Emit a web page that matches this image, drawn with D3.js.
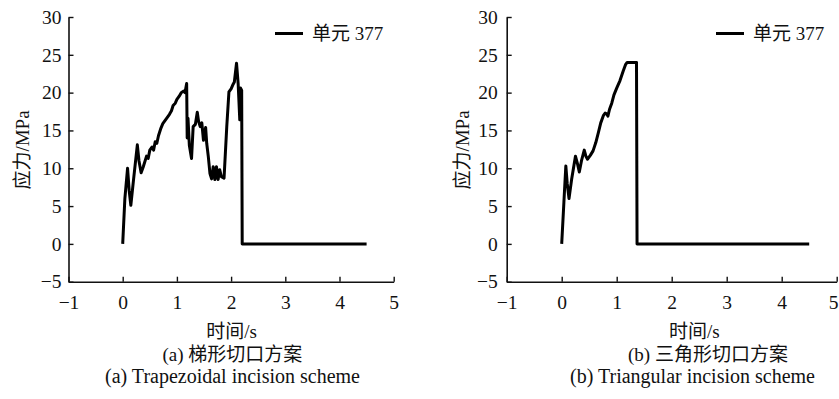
<!DOCTYPE html>
<html><head><meta charset="utf-8">
<script src="https://cdn.jsdelivr.net/npm/d3@7"></script>
<style>
html,body{margin:0;padding:0;background:#fff;}
text{font-family:"Liberation Serif","Noto Sans CJK SC",serif;fill:#111;}
</style></head>
<body><svg id="c" width="839" height="399"></svg>
<script>
// ---- data ----
const xTicks = [-1, 0, 1, 2, 3, 4, 5];
const yTicks = [-5, 0, 5, 10, 15, 20, 25, 30];
const legendLabel = "单元 377";
const yTitle = "应力/MPa";
const xTitle = "时间/s";
const captionsA = ["(a) 梯形切口方案", "(a) Trapezoidal incision scheme"];
const captionsB = ["(b) 三角形切口方案", "(b) Triangular incision scheme"];

// 梯形切口 (trapezoidal) : time (s)
const timeA = [0,0.04,0.09,0.12,0.15,0.2,0.27,0.3,0.34,0.38,0.44,0.47,0.5,0.54,0.57,0.6,0.63,0.66,0.7,0.74,0.78,0.82,0.86,0.9,0.93,0.97,1.0,1.04,1.08,1.12,1.15,1.18,1.19,1.205,1.23,1.27,1.3,1.34,1.376,1.4,1.43,1.46,1.49,1.53,1.55,1.58,1.61,1.64,1.67,1.70,1.73,1.76,1.79,1.82,1.87,1.92,1.96,2.0,2.03,2.06,2.1,2.13,2.16,2.175,2.195,2.205,4.5];
// stress (MPa)
const stressA = [0,6,10,7,5.1,8.5,13.1,11,9.4,10.2,11.6,11.3,12.4,12.8,12.4,13.5,13.3,14.3,15.2,15.9,16.3,16.7,17.1,17.6,18.3,18.6,19.1,19.5,20.0,20.2,20.0,21.2,14.0,16.6,13.0,11.3,15.5,15.8,17.4,16.2,15.5,16.0,13.7,15.4,13.3,11.5,9.3,8.6,10.2,8.5,10.2,8.5,9.8,8.9,8.7,15.5,20.1,20.5,21.0,21.4,23.9,21.2,16.4,20.6,20.3,0,0];

// 三角形切口 (triangular)
const timeB = [0,0.04,0.075,0.1,0.133,0.18,0.25,0.29,0.32,0.36,0.41,0.44,0.47,0.52,0.57,0.62,0.67,0.71,0.76,0.79,0.82,0.84,0.87,0.91,0.95,1.0,1.06,1.12,1.16,1.19,1.36,1.37,4.5];
const stressB = [0,5.5,10.3,8,6.0,8.5,11.6,10.5,9.5,11,12.4,11.6,11.2,11.7,12.3,13.4,14.8,16.0,17.0,17.3,17.2,16.9,17.8,18.6,19.7,20.6,21.6,22.9,23.7,24,24,0,0];

const svg = d3.select("#c");
const FS = 19.5;   // tick numbers
const FC = 19;     // CJK texts
const FE = 20;     // English caption

function panel(cfg) {
  const x = d3.scaleLinear().domain([-1, 5]).range([cfg.x0, cfg.x1]);
  const y = d3.scaleLinear().domain([-5, 30]).range([281.7, 17]);
  const g = svg.append("g");

  const ya = g.append("g").attr("transform", `translate(${cfg.x0},0)`)
    .call(d3.axisLeft(y).tickValues(yTicks).tickSizeInner(-5).tickSizeOuter(0).tickPadding(cfg.yPad).tickFormat(d3.format("d")));
  const xa = g.append("g").attr("transform", `translate(0,${y(-5)})`)
    .call(d3.axisBottom(x).tickValues(xTicks).tickSizeInner(-5).tickSizeOuter(0).tickPadding(13).tickFormat(d3.format("d")));
  [ya, xa].forEach(a => {
    a.select(".domain").attr("stroke", "#111").attr("stroke-width", 1.6);
    a.selectAll(".tick line").attr("stroke", "#111").attr("stroke-width", 1.4);
    a.selectAll("text").attr("font-size", FS).attr("font-family", '"Liberation Serif",serif').attr("fill", "#111");
  });
  if (cfg.clampLast) {
    xa.selectAll(".tick").filter(d => d === 5).select("text")
      .attr("text-anchor", "end").attr("x", 839 - cfg.x1 - 1);
  }

  const pts = cfg.t.map((t, i) => [t, cfg.v[i]]);
  g.append("path").datum(pts)
    .attr("fill", "none").attr("stroke", "#000").attr("stroke-width", 3)
    .attr("stroke-linejoin", "round")
    .attr("d", d3.line().x(d => x(d[0])).y(d => y(d[1])));

  g.append("line").attr("x1", cfg.legX).attr("x2", cfg.legX + 28).attr("y1", 33.5).attr("y2", 33.5)
    .attr("stroke", "#000").attr("stroke-width", 3);
  g.append("text").attr("x", cfg.legX + 37).attr("y", 33.5).attr("dominant-baseline", "central")
    .attr("font-size", FC).text(legendLabel);

  g.append("text").attr("transform", `translate(${cfg.yTitleX},150) rotate(-90)`)
    .attr("text-anchor", "middle").attr("dominant-baseline", "central")
    .attr("font-size", FC).text(yTitle);
  g.append("text").attr("x", cfg.xTitleX).attr("y", 331).attr("text-anchor", "middle")
    .attr("dominant-baseline", "central").attr("font-size", FC).text(xTitle);
  g.append("text").attr("x", cfg.cap1X).attr("y", 354).attr("text-anchor", "middle")
    .attr("dominant-baseline", "central").attr("font-size", FC).text(cfg.caps[0]);
  g.append("text").attr("x", cfg.cap2X).attr("y", 376).attr("text-anchor", "middle")
    .attr("dominant-baseline", "central").attr("font-size", FE).text(cfg.caps[1]);
}

panel({x0: 68.5, x1: 393.7, t: timeA, v: stressA, legX: 275, yTitleX: 22, yPad: 7,
  xTitleX: 231.7, cap1X: 232.3, cap2X: 232.5, caps: captionsA});
panel({x0: 506.7, x1: 836.7, t: timeB, v: stressB, legX: 716, yTitleX: 462, yPad: 9,
  xTitleX: 694.3, cap1X: 708, cap2X: 692.5, caps: captionsB, clampLast: true});
</script></body></html>
